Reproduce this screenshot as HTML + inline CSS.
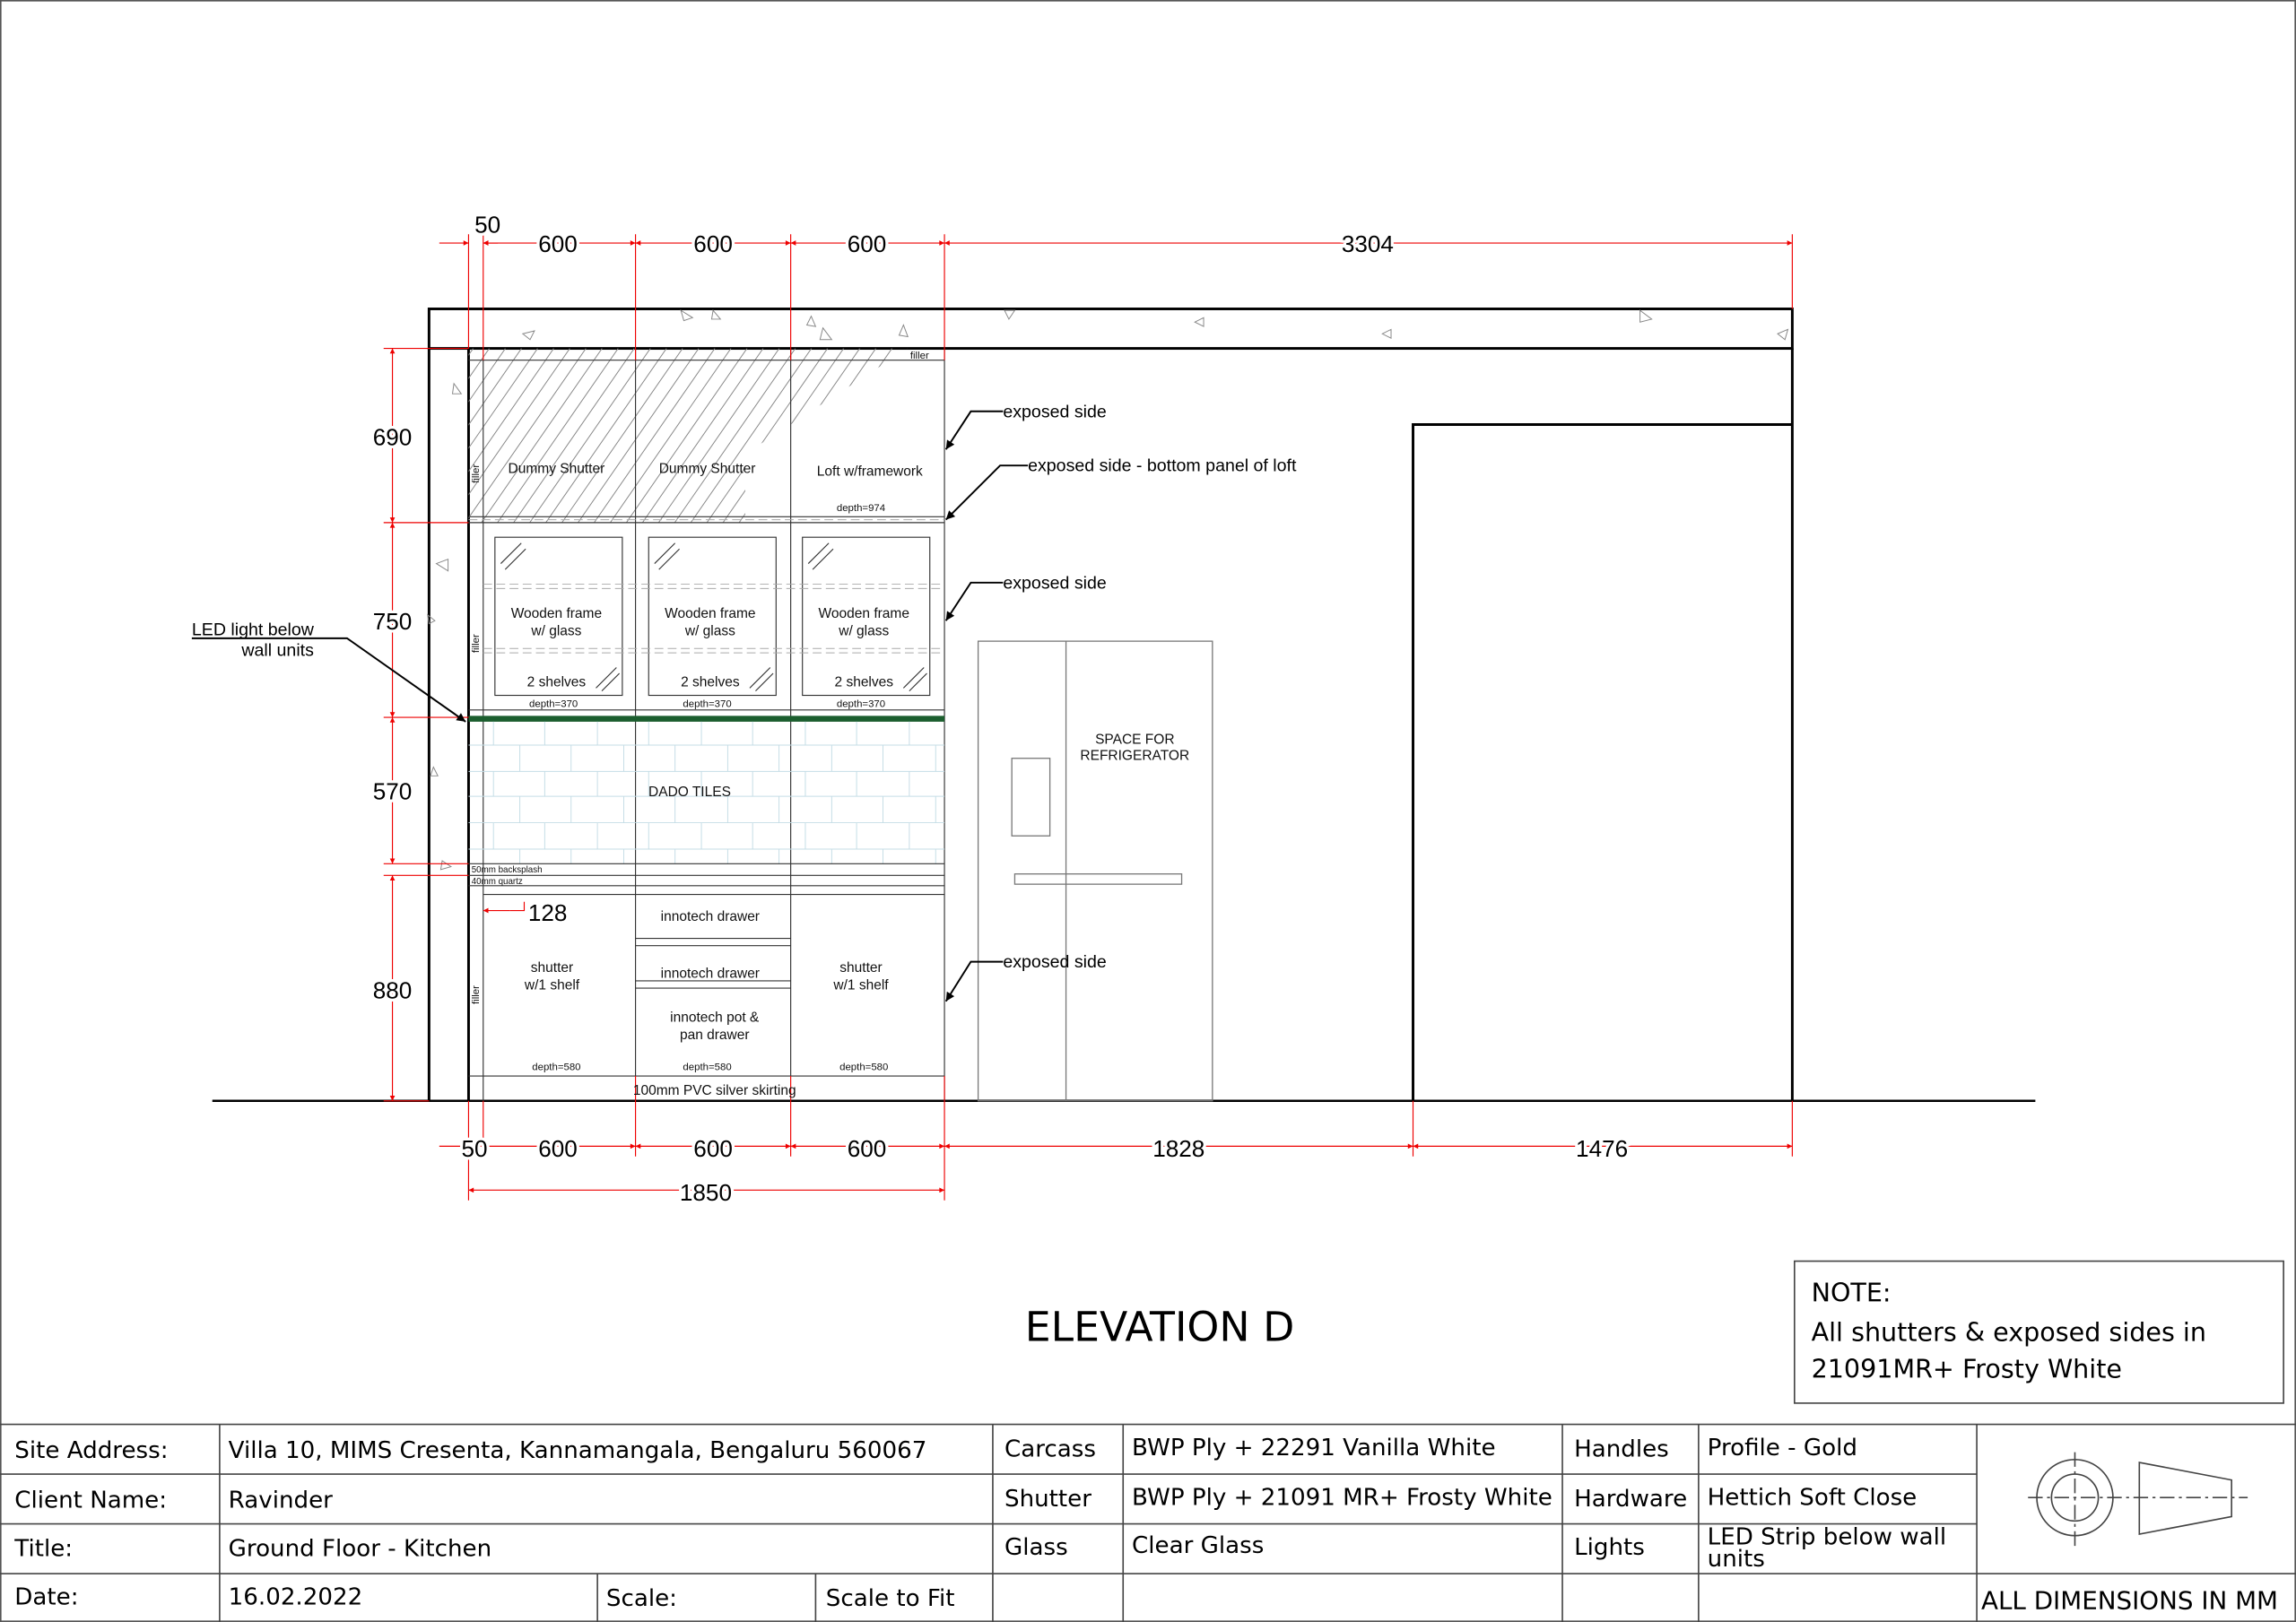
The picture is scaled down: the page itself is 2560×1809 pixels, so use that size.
<!DOCTYPE html>
<html><head><meta charset="utf-8"><style>html,body{margin:0;padding:0;background:#fff}svg{display:block}</style></head>
<body>
<svg width="2560" height="1809" viewBox="0 0 1568 1108" xmlns="http://www.w3.org/2000/svg" font-family="Liberation Sans, sans-serif">
<defs>
<clipPath id="hc"><polygon points="320,238 620,238 509,310 509,357 320,357"/></clipPath>
<marker id="a" viewBox="0 0 10 10" refX="10" refY="5" markerWidth="8" markerHeight="5" orient="auto-start-reverse"><path d="M0,0L10,5L0,10z" fill="#e00"/></marker>
<marker id="k" viewBox="0 0 10 10" refX="10" refY="5" markerWidth="8" markerHeight="5" orient="auto"><path d="M0,0L10,5L0,10z" fill="#000"/></marker>
</defs>
<rect x="0.5" y="0.5" width="1567" height="1107" fill="none" stroke="#555" stroke-width="1"/>

<g stroke="#000" fill="none" stroke-width="1.8">
<rect x="293" y="211" width="931" height="27"/>
<line x1="293" y1="238" x2="293" y2="752"/>
<line x1="320" y1="238" x2="320" y2="752"/>
<line x1="1224" y1="238" x2="1224" y2="752"/>
<polyline points="965,752 965,290 1224,290"/>
<line x1="145" y1="752" x2="1390" y2="752" stroke-width="1.5"/>
</g>
<g fill="none" stroke="#888" stroke-width="0.6">
<path d="M357,228l8,-2l-3,6z M465,212l8,5l-6,2z M487,212l5,6l-6,0z M554,216l3,7l-6,-1z M562,224l6,8l-8,0z M617,222l3,8l-6,-1z M686,212l7,0l-4,6z M816,220l6,-3l0,6z M944,228l6,-3l0,6z M1120,212l8,6l-8,2z M1214,228l7,-3l-2,7z M310,262l5,7l-6,0z M298,385l8,-3l0,8z M292,420l5,4l-4,2z M296,524l3,6l-5,0z M302,588l6,4l-7,2z"/>
</g>

<g clip-path="url(#hc)" stroke="#888" stroke-width="0.6">
<path id="hl" d="M200,400L380,140 M211,400L391,140 M222,400L402,140 M233,400L413,140 M244,400L424,140 M255,400L435,140 M266,400L446,140 M277,400L457,140 M288,400L468,140 M299,400L479,140 M310,400L490,140 M321,400L501,140 M332,400L512,140 M343,400L523,140 M354,400L534,140 M365,400L545,140 M376,400L556,140 M387,400L567,140 M398,400L578,140 M409,400L589,140 M420,400L600,140 M431,400L611,140 M442,400L622,140 M453,400L633,140 M464,400L644,140 M475,400L655,140 M486,400L666,140 M497,400L677,140 M508,400L688,140 M519,400L699,140 M530,400L710,140"/>
</g>
<g stroke="#333" stroke-width="0.7" fill="none">
<line x1="320" y1="246" x2="645" y2="246"/>
<line x1="330" y1="246" x2="330" y2="752"/>
<line x1="434" y1="238" x2="434" y2="735"/>
<line x1="540" y1="238" x2="540" y2="735"/>
<line x1="645" y1="238" x2="645" y2="752"/>
<line x1="320" y1="353" x2="645" y2="353"/>
<line x1="320" y1="357" x2="645" y2="357"/>
<line x1="320" y1="485" x2="645" y2="485"/>
<rect x="338" y="367" width="87" height="108"/>
<rect x="443" y="367" width="87" height="108"/>
<rect x="548" y="367" width="87" height="108"/>
<path d="M342,385l14,-14M345,389l14,-14M447,385l14,-14M450,389l14,-14M552,385l14,-14M555,389l14,-14M407,470l14,-14M411,472l12,-12M512,470l14,-14M516,472l12,-12M617,470l14,-14M621,472l12,-12"/>
</g>
<g stroke="#aaa" stroke-width="0.6" stroke-dasharray="6,3">
<line x1="330" y1="399" x2="645" y2="399"/><line x1="330" y1="402" x2="645" y2="402"/>
<line x1="330" y1="443" x2="645" y2="443"/><line x1="330" y1="446" x2="645" y2="446"/>
<line x1="320" y1="355" x2="645" y2="355"/>
</g>
<rect x="320" y="489" width="325" height="4" fill="#1b5e2e"/>

<g stroke="#c5dde6" stroke-width="0.6">
<line x1="320" y1="509" x2="645" y2="509"/><line x1="320" y1="527" x2="645" y2="527"/><line x1="320" y1="544" x2="645" y2="544"/><line x1="320" y1="562" x2="645" y2="562"/><line x1="320" y1="580" x2="645" y2="580"/>
<path d="M337,493v16M372,493v16M408,493v16M443,493v16M479,493v16M514,493v16M550,493v16M585,493v16M621,493v16
M355,509v18M390,509v18M426,509v18M461,509v18M497,509v18M532,509v18M568,509v18M603,509v18M639,509v18
M337,527v17M372,527v17M408,527v17M443,527v17M479,527v17M514,527v17M550,527v17M585,527v17M621,527v17
M355,544v18M390,544v18M426,544v18M461,544v18M497,544v18M532,544v18M568,544v18M603,544v18M639,544v18
M337,562v18M372,562v18M408,562v18M443,562v18M479,562v18M514,562v18M550,562v18M585,562v18M621,562v18
M355,580v10M390,580v10M426,580v10M461,580v10M497,580v10M532,580v10M568,580v10M603,580v10M639,580v10"/>
</g>
<g stroke="#333" stroke-width="0.7" fill="none">
<line x1="320" y1="590" x2="645" y2="590"/>
<line x1="320" y1="598" x2="645" y2="598"/>
<line x1="320" y1="605" x2="645" y2="605"/>
<line x1="330" y1="611" x2="645" y2="611"/>
<line x1="434" y1="641" x2="540" y2="641"/><line x1="434" y1="646" x2="540" y2="646"/>
<line x1="434" y1="670" x2="540" y2="670"/><line x1="434" y1="675" x2="540" y2="675"/>
<line x1="320" y1="735" x2="645" y2="735"/>
</g>

<g stroke="#777" stroke-width="0.8" fill="none">
<rect x="668" y="438" width="160" height="314"/>
<line x1="728" y1="438" x2="728" y2="752"/>
<rect x="691" y="518" width="26" height="53"/>
<rect x="693" y="597" width="114" height="7"/>
</g>

<g stroke="#e00" stroke-width="0.7" fill="none">
<path d="M320,160V238M330,160V246M434,160V246M540,160V246M645,160V246M1224,160V211"/>
<path d="M320,752V820M330,752V790M434,735V790M540,735V790M645,735V820M965,752V790M1224,752V790"/>
<path d="M262,238H320M262,357H320M262,490H320M262,590H320M262,598H320M262,752H293"/>
<line x1="300" y1="166" x2="320" y2="166" marker-end="url(#a)"/>
<line x1="340" y1="166" x2="330" y2="166" marker-end="url(#a)"/>
<line x1="330" y1="166" x2="434" y2="166" marker-start="url(#a)" marker-end="url(#a)"/>
<line x1="434" y1="166" x2="540" y2="166" marker-start="url(#a)" marker-end="url(#a)"/>
<line x1="540" y1="166" x2="645" y2="166" marker-start="url(#a)" marker-end="url(#a)"/>
<line x1="645" y1="166" x2="1224" y2="166" marker-start="url(#a)" marker-end="url(#a)"/>
<line x1="300" y1="783" x2="320" y2="783" marker-end="url(#a)"/>
<line x1="320" y1="783" x2="330" y2="783"/>
<line x1="330" y1="783" x2="434" y2="783" marker-start="url(#a)" marker-end="url(#a)"/>
<line x1="434" y1="783" x2="540" y2="783" marker-start="url(#a)" marker-end="url(#a)"/>
<line x1="540" y1="783" x2="645" y2="783" marker-start="url(#a)" marker-end="url(#a)"/>
<line x1="645" y1="783" x2="965" y2="783" marker-start="url(#a)" marker-end="url(#a)"/>
<line x1="965" y1="783" x2="1224" y2="783" marker-start="url(#a)" marker-end="url(#a)"/>
<line x1="320" y1="813" x2="645" y2="813" marker-start="url(#a)" marker-end="url(#a)"/>
<line x1="268" y1="238" x2="268" y2="357" marker-start="url(#a)" marker-end="url(#a)"/>
<line x1="268" y1="357" x2="268" y2="490" marker-start="url(#a)" marker-end="url(#a)"/>
<line x1="268" y1="490" x2="268" y2="590" marker-start="url(#a)" marker-end="url(#a)"/>
<line x1="268" y1="598" x2="268" y2="752" marker-start="url(#a)" marker-end="url(#a)"/>
<line x1="330" y1="622" x2="348" y2="622" marker-start="url(#a)"/>
<polyline points="348,622 358,622 358,616"/>
</g>
<g font-size="16" fill="#000" text-anchor="middle" stroke="#fff" stroke-width="4" paint-order="stroke">
<text x="333" y="159">50</text>
<text x="381" y="172">600</text><text x="487" y="172">600</text><text x="592" y="172">600</text>
<text x="934" y="172">3304</text>
<text x="324" y="790">50</text>
<text x="381" y="790">600</text><text x="487" y="790">600</text><text x="592" y="790">600</text>
<text x="805" y="790">1828</text><text x="1094" y="790">1476</text>
<text x="482" y="820">1850</text>
<text x="268" y="304">690</text><text x="268" y="430">750</text><text x="268" y="546">570</text><text x="268" y="682">880</text>
<text x="374" y="629">128</text>
</g>

<g font-size="9.5" fill="#111" text-anchor="middle">
<text x="380" y="323">Dummy Shutter</text>
<text x="483" y="323">Dummy Shutter</text>
<text x="594" y="325">Loft w/framework</text>
<text x="588" y="349" font-size="7">depth=974</text>
<text x="628" y="245" font-size="7">filler</text>
<text x="380" y="422">Wooden frame</text><text x="380" y="434">w/ glass</text>
<text x="485" y="422">Wooden frame</text><text x="485" y="434">w/ glass</text>
<text x="590" y="422">Wooden frame</text><text x="590" y="434">w/ glass</text>
<text x="380" y="469">2 shelves</text><text x="485" y="469">2 shelves</text><text x="590" y="469">2 shelves</text>
<text x="378" y="483" font-size="7">depth=370</text><text x="483" y="483" font-size="7">depth=370</text><text x="588" y="483" font-size="7">depth=370</text>
<text x="471" y="544">DADO TILES</text>
<text x="485" y="629">innotech drawer</text>
<text x="485" y="668">innotech drawer</text>
<text x="488" y="698">innotech pot &amp;</text><text x="488" y="710">pan drawer</text>
<text x="377" y="664">shutter</text><text x="377" y="676">w/1 shelf</text>
<text x="588" y="664">shutter</text><text x="588" y="676">w/1 shelf</text>
<text x="380" y="731" font-size="7">depth=580</text><text x="483" y="731" font-size="7">depth=580</text><text x="590" y="731" font-size="7">depth=580</text>
<text x="488" y="748">100mm PVC silver skirting</text>
<text x="775" y="508">SPACE FOR</text><text x="775" y="519">REFRIGERATOR</text>
</g>
<g font-size="6" fill="#111">
<text x="322" y="596">50mm backsplash</text>
<text x="322" y="604">40mm quartz</text>
<text transform="translate(327,330) rotate(-90)" font-size="7">filler</text>
<text transform="translate(327,446) rotate(-90)" font-size="7">filler</text>
<text transform="translate(327,686) rotate(-90)" font-size="7">filler</text>
</g>
<g stroke="#000" stroke-width="1.2" fill="none">
<polyline points="685,281 663,281 646,307" marker-end="url(#k)"/>
<polyline points="702,318 683,318 646,355" marker-end="url(#k)"/>
<polyline points="685,398 663,398 646,424" marker-end="url(#k)"/>
<polyline points="685,657 663,657 646,684" marker-end="url(#k)"/>
<polyline points="131,436 237,436 318,493" marker-end="url(#k)"/>
</g>
<g font-size="12" fill="#000">
<text x="685" y="285">exposed side</text>
<text x="702" y="322">exposed side - bottom panel of loft</text>
<text x="685" y="402">exposed side</text>
<text x="685" y="661">exposed side</text>
<text x="131" y="434">LED light below</text>
<text x="165" y="448">wall units</text>
</g>

<text x="792" y="916" font-family="DejaVu Sans, sans-serif" font-size="28" text-anchor="middle">ELEVATION D</text>
<rect x="1225.5" y="861.5" width="334" height="97" fill="none" stroke="#444"/>
<g font-family="DejaVu Sans, sans-serif" font-size="17.5" fill="#000">
<text x="1237" y="889">NOTE:</text>
<text x="1237" y="916">All shutters &amp; exposed sides in</text>
<text x="1237" y="941">21091MR+ Frosty White</text>
</g>

<g stroke="#444" stroke-width="1" fill="none">
<line x1="0" y1="973" x2="1568" y2="973"/>
<line x1="0" y1="1007" x2="1350" y2="1007"/>
<line x1="0" y1="1041" x2="1350" y2="1041"/>
<line x1="0" y1="1075" x2="1568" y2="1075"/>
<line x1="150" y1="973" x2="150" y2="1108"/>
<line x1="678" y1="973" x2="678" y2="1108"/>
<line x1="767" y1="973" x2="767" y2="1108"/>
<line x1="1067" y1="973" x2="1067" y2="1108"/>
<line x1="1160" y1="973" x2="1160" y2="1108"/>
<line x1="1350" y1="973" x2="1350" y2="1108"/>
<line x1="408" y1="1075" x2="408" y2="1108"/>
<line x1="557" y1="1075" x2="557" y2="1108"/>
<circle cx="1417" cy="1023" r="26"/><circle cx="1417" cy="1023" r="16"/>
<polygon points="1461,999 1524,1011 1524,1036 1461,1048"/>
<path d="M1417,992V1056M1385,1023H1535" stroke-dasharray="10,3,2,3"/>
</g>
<g font-family="DejaVu Sans, sans-serif" font-size="16" fill="#000">
<text x="10" y="996">Site Address:</text><text x="156" y="996">Villa 10, MIMS Cresenta, Kannamangala, Bengaluru 560067</text>
<text x="686" y="995">Carcass</text><text x="773" y="994">BWP Ply + 22291 Vanilla White</text>
<text x="1075" y="995">Handles</text><text x="1166" y="994">Profile - Gold</text>
<text x="10" y="1030">Client Name:</text><text x="156" y="1030">Ravinder</text>
<text x="686" y="1029">Shutter</text><text x="773" y="1028">BWP Ply + 21091 MR+ Frosty White</text>
<text x="1075" y="1029">Hardware</text><text x="1166" y="1028">Hettich Soft Close</text>
<text x="10" y="1063">Title:</text><text x="156" y="1063">Ground Floor - Kitchen</text>
<text x="686" y="1062">Glass</text><text x="773" y="1061">Clear Glass</text>
<text x="1075" y="1062">Lights</text>
<text x="1166" y="1055">LED Strip below wall</text><text x="1166" y="1070">units</text>
<text x="10" y="1096">Date:</text><text x="156" y="1096">16.02.2022</text>
<text x="414" y="1097">Scale:</text><text x="564" y="1097">Scale to Fit</text>
<text x="1353" y="1099" font-size="17">ALL DIMENSIONS IN MM</text>
</g>
</svg>
</body></html>
